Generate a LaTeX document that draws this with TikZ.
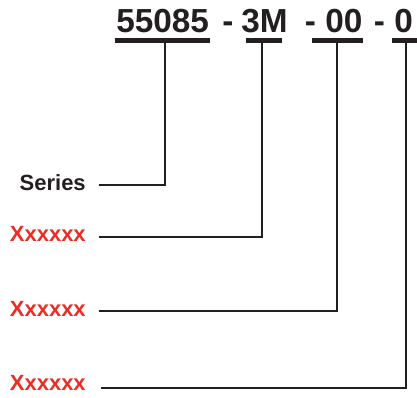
\documentclass[tikz,border=0pt]{standalone}
\usepackage{fontspec}
\setmainfont{Liberation Sans}
\usepackage{tikz}
\usepackage{xcolor}
\definecolor{codered}{RGB}{237,44,36}
\definecolor{inkgray}{RGB}{35,31,32}
\tikzset{
  code/.style={inner sep=0pt, text=inkgray, font=\bfseries\fontsize{25}{30}\selectfont},
  lbl/.style={inner sep=0pt, text=inkgray, font=\bfseries\fontsize{16.5}{20}\selectfont},
  optlbl/.style={lbl, text=codered},
  bar/.style={draw=inkgray, line width=3.6pt},
  wire/.style={draw=inkgray, line width=1.5pt}
}

\begin{document}
\begin{tikzpicture}[x=0.75pt,y=-0.75pt]
\useasboundingbox (0,0) rectangle (417,397);
% part number
\node[code,anchor=base west] (c1) at (116,32.5){55085};
\node[code,anchor=base] (h1) at (228,32.5){-};
\node[code,anchor=base west] (c2) at (241,32.5){3M};
\node[code,anchor=base] (h2) at (310.5,32.5){-};
\node[code,anchor=base west] (c3) at (325,32.5){00};
\node[code,anchor=base] (h3) at (379.5,32.5){-};
\node[code,anchor=base west] (c4) at (394,32.5){0};
\draw[bar] (115,40.5) -- (210,40.5);
\draw[bar] (246,40.5) -- (282,40.5);
\draw[bar] (312,40.5) -- (363,40.5);
\draw[bar] (392,40.5) -- (420,40.5);
% labels
\node[lbl,anchor=base east] (series) at (86,190.5){Series};
\node[optlbl,anchor=base east] (opt1) at (86,241.5){Xxxxxx};
\node[optlbl,anchor=base east] (opt2) at (86,316.5){Xxxxxx};
\node[optlbl,anchor=base east] (opt3) at (86,390){Xxxxxx};
\coordinate (t1) at (165,42);
\coordinate (t2) at (262,42);
\coordinate (t3) at (337,42);
\coordinate (t4) at (406,42);
\coordinate (l1) at (99,185);
\coordinate (l2) at (99,237);
\coordinate (l3) at (99,311);
\coordinate (l4) at (101,388);
\draw[wire] (t1) |- (l1);
\draw[wire] (t2) |- (l2);
\draw[wire] (t3) |- (l3);
\draw[wire] (t4) |- (l4);
\end{tikzpicture}
\end{document}
